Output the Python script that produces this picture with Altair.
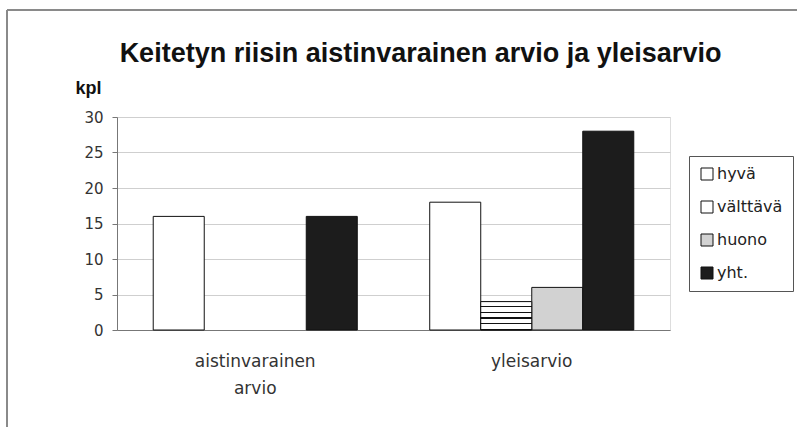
import altair as alt
import pandas as pd

categories = ["aistinvarainen arvio", "yleisarvio"]
series = ["hyvä", "välttävä", "huono", "yht."]
hyva = [16, 18]
valttava = [0, 4]
huono = [0, 6]
yht = [16, 28]
y_ticks = [0, 5, 10, 15, 20, 25, 30]
colors = ["#ffffff", "#ffffff", "#d2d2d2", "#1c1c1c"]

rows = []
for i, cat in enumerate(categories):
    for s, vals in zip(series, [hyva, valttava, huono, yht]):
        if vals[i] > 0:
            rows.append({"luokka": cat, "sarja": s, "kpl": vals[i]})
df = pd.DataFrame(rows)

FONT = "Liberation Sans"
WIDE = "DejaVu Sans"


def stripes(n, frac=0.78):
    stops = []
    for k in range(n):
        a = k / n
        b = (k + frac) / n
        c = (k + 1) / n
        stops += [
            alt.GradientStop(offset=a, color="#ffffff"),
            alt.GradientStop(offset=b, color="#ffffff"),
            alt.GradientStop(offset=b, color="#111111"),
            alt.GradientStop(offset=c, color="#111111"),
        ]
    return stops


bar_grad = alt.LinearGradient(gradient="linear", x1=0, y1=0, x2=0, y2=1, stops=stripes(5))

x_enc = alt.X(
    "luokka:N",
    sort=categories,
    scale=alt.Scale(domain=categories, paddingInner=0.262, paddingOuter=0.131),
    axis=alt.Axis(
        title=None, labelAngle=0, labelExpr="split(datum.label, ' ')",
        labelFont=WIDE, labelFontSize=17, labelColor="#333333",
        labelLineHeight=27, labelPadding=23, ticks=False, domain=True,
        domainColor="#777777", grid=False,
    ),
)
xo_enc = alt.XOffset(
    "sarja:N", sort=series,
    scale=alt.Scale(domain=series, paddingInner=0, paddingOuter=0),
)
y_enc = alt.Y(
    "kpl:Q",
    scale=alt.Scale(domain=[0, 30], nice=False),
    axis=alt.Axis(
        values=y_ticks, title="kpl", titleAngle=0, titleAlign="left",
        titleBaseline="alphabetic", titleX=-42, titleY=-24,
        titleFont=FONT, titleFontSize=18, titleFontWeight="bold", titleColor="#111111",
        labelFont=WIDE, labelFontSize=15, labelColor="#333333", labelPadding=9,
        tickSize=5, tickColor="#777777", domainColor="#777777",
        gridColor="#cfcfcf", grid=True,
    ),
)

bars = alt.Chart(df).mark_bar(stroke="#111111", strokeWidth=1, opacity=1).encode(
    x=x_enc,
    xOffset=xo_enc,
    y=y_enc,
    color=alt.Color(
        "sarja:N", sort=series,
        scale=alt.Scale(domain=series, range=colors),
        legend=alt.Legend(
            title=None, orient="none", legendX=572, legendY=39,
            symbolType="square", symbolSize=144, symbolStrokeColor="#111111",
            symbolStrokeWidth=1, labelFont=WIDE, labelFontSize=16,
            labelColor="#222222", rowPadding=17, padding=10,
            strokeColor="#555555", fillColor="#ffffff",
            labelOffset=2,
        ),
    ),
)

striped = alt.Chart(df).transform_filter(
    alt.datum.sarja == "välttävä"
).mark_bar(stroke="#111111", strokeWidth=1, fill=bar_grad).encode(
    x=x_enc,
    xOffset=xo_enc,
    y=y_enc,
)

frame_top = alt.Chart(df).mark_rule(color="#8a8a8a", strokeWidth=1.5).encode(
    x=alt.value(-110), x2=alt.value(680), y=alt.value(-107)
)
frame_left = alt.Chart(df).mark_rule(color="#8a8a8a", strokeWidth=1.5).encode(
    x=alt.value(-110), y=alt.value(-107), y2=alt.value(310)
)

chart = alt.layer(bars, striped, frame_top, frame_left).properties(
    width=553,
    height=213,
    title=alt.TitleParams(
        "Keitetyn riisin aistinvarainen arvio ja yleisarvio",
        font=FONT, fontSize=27, fontWeight="bold", color="#111111",
        anchor="middle", dx=27, offset=-80, baseline="alphabetic",
    ),
    padding={"left": 117, "top": 117, "right": 127, "bottom": 97},
    autosize=alt.AutoSizeParams(type="none"),
).configure_view(stroke=None).configure(background="#ffffff")

chart.save("out.html", embed_options={"renderer": "svg", "actions": False})
